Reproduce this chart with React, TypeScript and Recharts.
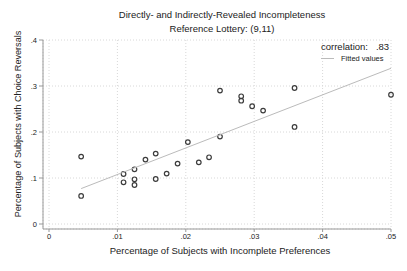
import React from "react"
import { ScatterChart, Scatter, XAxis, YAxis, CartesianGrid } from "recharts"

// observed points (x = share with incomplete preferences, y = share with reversals)
const incomplete = [
  0.0047, 0.0047, 0.0109, 0.0109, 0.0125, 0.0125, 0.0125, 0.0141, 0.0156, 0.0156,
  0.0172, 0.0188, 0.0203, 0.0219, 0.0234, 0.025, 0.025, 0.0281, 0.0281, 0.0297,
  0.0313, 0.0359, 0.0359, 0.05,
]
const reversals = [
  0.1465, 0.061, 0.1087, 0.0907, 0.1189, 0.0972, 0.0848, 0.14, 0.153, 0.0978,
  0.1096, 0.1313, 0.178, 0.134, 0.145, 0.19, 0.29, 0.2776, 0.268, 0.256,
  0.2465, 0.2957, 0.211, 0.281,
]

// fitted line endpoints
const fitX = [0.0047, 0.05]
const fitY = [0.077, 0.3385]

const xTicks = [0, 0.01, 0.02, 0.03, 0.04, 0.05]
const yTicks = [0, 0.1, 0.2, 0.3, 0.4]

const points = incomplete.map((x, i) => ({ x, y: reversals[i] }))
const fitted = fitX.map((x, i) => ({ x, y: fitY[i] }))

const fmt = (v: number) => (v === 0 ? "0" : String(Number(v.toFixed(2))).replace(/^0/, ""))

const font = "'Liberation Sans', Arial, sans-serif"

function Ring(props: any) {
  const { cx, cy } = props
  return <circle cx={cx} cy={cy} r={2.3} fill="none" stroke="#3c3c3c" strokeWidth={1.2} />
}

export default function App() {
  return (
    <div style={{ position: "fixed", left: 0, top: 0, width: 407, height: 271, background: "#fff" }}>
      <ScatterChart width={407} height={271} margin={{ top: 40, right: 16, bottom: 0, left: 0 }}>
        <text x={222} y={18} textAnchor="middle" fontFamily={font} fontSize={9.5} fill="#222">
          Directly- and Indirectly-Revealed Incompleteness
        </text>
        <text x={222} y={31.5} textAnchor="middle" fontFamily={font} fontSize={9.5} fill="#222">
          Reference Lottery: (9,11)
        </text>
        <text x={220} y={254} textAnchor="middle" fontFamily={font} fontSize={9.5} fill="#222">
          Percentage of Subjects with Incomplete Preferences
        </text>
        <text
          x={21}
          y={124}
          transform="rotate(-90 21 124)"
          textAnchor="middle"
          fontFamily={font}
          fontSize={9.1}
          fill="#222"
        >
          Percentage of Subjects with Choice Reversals
        </text>
        <CartesianGrid stroke="#d8d8d8" strokeDasharray="1 2" />
        <XAxis
          type="number"
          dataKey="x"
          domain={[0, 0.05]}
          ticks={xTicks}
          tickFormatter={fmt}
          padding={{ left: 6, right: 0 }}
          height={42}
          stroke="#999"
          tick={{ fill: "#222", fontSize: 7.5, fontFamily: font }}
          tickSize={3}
        />
        <YAxis
          type="number"
          dataKey="y"
          domain={[0, 0.4]}
          ticks={yTicks}
          tickFormatter={fmt}
          padding={{ top: 0, bottom: 5 }}
          width={43}
          stroke="#999"
          tick={{ fill: "#222", fontSize: 7.5, fontFamily: font }}
          tickSize={4}
        />
        <Scatter data={points} shape={<Ring />} isAnimationActive={false} />
        <Scatter
          data={fitted}
          line={{ stroke: "#bbb", strokeWidth: 1 }}
          shape={() => <g />}
          isAnimationActive={false}
        />
      </ScatterChart>
      <div style={{ position: "absolute", left: 321, top: 42, fontFamily: font, color: "#222", lineHeight: 1 }}>
        <div style={{ fontSize: 9.5 }}>correlation:&nbsp;&nbsp;&nbsp;.83</div>
        <div style={{ display: "flex", alignItems: "center", marginTop: 3, fontSize: 7.5 }}>
          <span style={{ display: "inline-block", width: 13, borderTop: "1px solid #bbb", marginRight: 7 }} />
          Fitted values
        </div>
      </div>
    </div>
  )
}
